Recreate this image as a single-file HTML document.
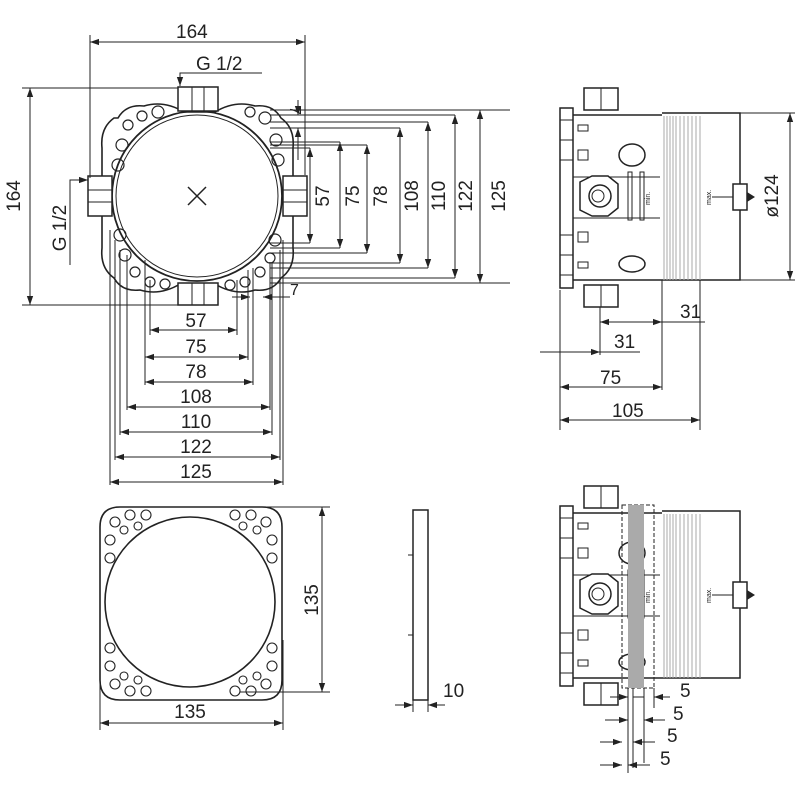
<!DOCTYPE html>
<html><head><meta charset="utf-8"><style>body{margin:0;background:#fff}svg{display:block}text{font-family:"Liberation Sans",sans-serif;fill:#222}</style></head><body>
<svg width="800" height="800" viewBox="0 0 800 800" xmlns="http://www.w3.org/2000/svg">
<defs>
<marker id="a" viewBox="0 0 10 10" refX="10" refY="5" markerWidth="9" markerHeight="9" orient="auto-start-reverse" markerUnits="userSpaceOnUse"><path d="M0,1.5 L10,5 L0,8.5z" fill="#222"/></marker>
<g id="side">
<rect x="560" y="108" width="13" height="180" fill="#fff" stroke="#222" stroke-width="1.5"/>
<path d="M560 120h13M560 140h13M560 160h13M560 235h13M560 255h13M560 275h13" stroke="#222"/>
<rect x="584" y="88" width="34" height="22" fill="#fff" stroke="#222" stroke-width="1.5"/><path d="M601 88v22" stroke="#222"/>
<rect x="584" y="285" width="34" height="22" fill="#fff" stroke="#222" stroke-width="1.5"/><path d="M601 285v22" stroke="#222"/>
<path d="M573 115H662M573 280H662M662 113H740V280H662" fill="none" stroke="#222" stroke-width="1.5"/>
<path d="M573 177h87M573 218h87" stroke="#222"/>
<rect x="578" y="125" width="10" height="6" fill="none" stroke="#222"/>
<rect x="578" y="150" width="10" height="10" fill="none" stroke="#222"/>
<rect x="578" y="232" width="10" height="10" fill="none" stroke="#222"/>
<rect x="578" y="262" width="10" height="6" fill="none" stroke="#222"/>
<path d="M580 182l12-6h16l10 8v24l-10 8h-16l-12-6z" fill="#fff" stroke="#222" stroke-width="1.5"/>
<circle cx="600" cy="196" r="11" fill="none" stroke="#222" stroke-width="1.5"/><circle cx="598" cy="196" r="6" fill="none" stroke="#222"/>
<ellipse cx="632" cy="155" rx="13" ry="11" fill="none" stroke="#222" stroke-width="1.5"/>
<ellipse cx="632" cy="264" rx="13" ry="8" fill="none" stroke="#222" stroke-width="1.5"/>
<rect x="628" y="172" width="4" height="48" fill="none" stroke="#222"/><rect x="640" y="172" width="4" height="48" fill="none" stroke="#222"/>
<g stroke="#aaa" stroke-width="1"><path d="M664 116v164M667 116v164M670 116v164M673 116v164M676 116v164M680 116v164M684 116v164M688 116v164M692 116v164M696 116v164M700 116v164"/></g>
<rect x="733" y="184" width="14" height="26" fill="#fff" stroke="#222" stroke-width="1.5"/><path d="M712 197h21" stroke="#222"/><path d="M747 192l8 5-8 5z" fill="#222"/>
<text x="650" y="205" font-size="7" transform="rotate(-90 650 205)">min.</text>
<text x="711" y="205" font-size="7" transform="rotate(-90 711 205)">max.</text>
</g>
</defs>
<g fill="none" stroke="#222" stroke-width="1">
<path d="M118 118 q8 -14 26 -12 q20 -6 40 6 H215 q20 -12 40 -6 q18 -2 26 12 q14 10 12 30 v100 q2 20 -12 30 q-8 14 -26 12 q-20 6 -40 -6 H180 q-20 12 -40 6 q-18 2 -26 -12 q-14 -10 -12 -30 v-100 q-2 -20 12 -30z" stroke-width="1.6"/>
<g stroke-width="1.2">
<circle cx="128" cy="125" r="5"/><circle cx="142" cy="116" r="5"/><circle cx="158" cy="112" r="6"/><circle cx="122" cy="145" r="6"/><circle cx="118" cy="165" r="6"/><circle cx="265" cy="118" r="6"/><circle cx="250" cy="112" r="5"/><circle cx="276" cy="140" r="6"/><circle cx="278" cy="160" r="6"/>
<circle cx="120" cy="235" r="6"/><circle cx="125" cy="255" r="6"/><circle cx="135" cy="272" r="5"/><circle cx="150" cy="282" r="5"/><circle cx="165" cy="284" r="5"/><circle cx="275" cy="240" r="6"/><circle cx="270" cy="258" r="5"/><circle cx="260" cy="272" r="5"/><circle cx="245" cy="282" r="5"/><circle cx="230" cy="285" r="5"/>
</g>
<circle cx="197" cy="196" r="85" stroke-width="1.8"/><circle cx="197" cy="196" r="81" stroke-width="1"/>
<path d="M188 187l18 18M206 187l-18 18" stroke-width="1.5"/>
<g stroke-width="1.5" fill="#fff">
<rect x="178" y="87" width="40" height="24"/><rect x="178" y="283" width="40" height="22"/>
<rect x="88" y="176" width="24" height="40"/><rect x="283" y="176" width="24" height="40"/>
</g>
<path d="M192 87v24M204 87v24M192 283v22M204 283v22M88 190h24M88 202h24M283 190h24M283 202h24"/>
<path d="M90 35v143M305 35v140"/><path d="M90 42H305" marker-start="url(#a)" marker-end="url(#a)"/>
<path d="M180 86V73H262" marker-start="url(#a)"/>
<path d="M22 88H178M22 305H180"/><path d="M30 88V305" marker-start="url(#a)" marker-end="url(#a)"/>
<path d="M88 180H70V265" marker-start="url(#a)"/>
<path d="M270 115H298M270 128H400M270 142H340M270 148H310M270 243H310M270 248H340M270 253H367M270 263H400M270 268H428M270 278H455M270 283H510M270 122H428M270 110H510M270 115H455M270 145H367"/>
<path d="M298 100V115" marker-end="url(#a)"/><path d="M298 160V128" marker-end="url(#a)"/>
<path d="M310 148V243" marker-start="url(#a)" marker-end="url(#a)"/>
<path d="M340 142V248" marker-start="url(#a)" marker-end="url(#a)"/>
<path d="M367 145V253" marker-start="url(#a)" marker-end="url(#a)"/>
<path d="M400 128V263" marker-start="url(#a)" marker-end="url(#a)"/>
<path d="M428 122V268" marker-start="url(#a)" marker-end="url(#a)"/>
<path d="M455 115V278" marker-start="url(#a)" marker-end="url(#a)"/>
<path d="M480 110V283" marker-start="url(#a)" marker-end="url(#a)"/>
<path d="M110 230V485M115 240V460M120 250V435M127 255V410M145 260V385M150 280V335M237 280V335M248 270V360M253 268V385M270 262V410M272 262V435M280 250V460M283 240V485"/>
<path d="M150 330H237" marker-start="url(#a)" marker-end="url(#a)"/>
<path d="M145 357H248" marker-start="url(#a)" marker-end="url(#a)"/>
<path d="M145 382H253" marker-start="url(#a)" marker-end="url(#a)"/>
<path d="M127 407H270" marker-start="url(#a)" marker-end="url(#a)"/>
<path d="M120 432H272" marker-start="url(#a)" marker-end="url(#a)"/>
<path d="M115 457H280" marker-start="url(#a)" marker-end="url(#a)"/>
<path d="M110 482H283" marker-start="url(#a)" marker-end="url(#a)"/>
<path d="M232 297H250" marker-end="url(#a)"/><path d="M290 297H263" marker-end="url(#a)"/>
<path d="M560 290V430M600 290V355M662 280V390M700 280V430"/>
<path d="M600 322H662" marker-start="url(#a)" marker-end="url(#a)"/><path d="M662 322H705"/>
<path d="M540 352H600" marker-end="url(#a)"/><path d="M600 352H640"/>
<path d="M560 387H662" marker-start="url(#a)" marker-end="url(#a)"/>
<path d="M560 420H700" marker-start="url(#a)" marker-end="url(#a)"/>
<path d="M740 113H795M740 280H795"/><path d="M790 113V280" marker-start="url(#a)" marker-end="url(#a)"/>
<!-- bottom-left plate -->
<path d="M120 507 H262 q20 0 20 20 V680 q0 20 -20 20 H120 q-20 0 -20 -20 V527 q0 -20 20 -20z" stroke-width="1.6"/>
<g stroke-width="1.1"><circle cx="115" cy="522" r="5"/><circle cx="130" cy="515" r="5"/><circle cx="146" cy="515" r="5"/><circle cx="110" cy="540" r="5"/><circle cx="110" cy="558" r="5"/><circle cx="124" cy="530" r="4"/><circle cx="138" cy="526" r="4"/>
<circle cx="266" cy="522" r="5"/><circle cx="251" cy="515" r="5"/><circle cx="235" cy="515" r="5"/><circle cx="272" cy="540" r="5"/><circle cx="272" cy="558" r="5"/><circle cx="257" cy="530" r="4"/><circle cx="243" cy="526" r="4"/>
<circle cx="115" cy="684" r="5"/><circle cx="130" cy="691" r="5"/><circle cx="146" cy="691" r="5"/><circle cx="110" cy="666" r="5"/><circle cx="110" cy="648" r="5"/><circle cx="124" cy="676" r="4"/><circle cx="138" cy="680" r="4"/>
<circle cx="266" cy="684" r="5"/><circle cx="251" cy="691" r="5"/><circle cx="235" cy="691" r="5"/><circle cx="272" cy="666" r="5"/><circle cx="272" cy="648" r="5"/><circle cx="257" cy="676" r="4"/><circle cx="243" cy="680" r="4"/></g>
<circle cx="190" cy="602" r="85" stroke-width="1.6"/>
<path d="M240 507H330M240 692H330"/><path d="M322 507V692" marker-start="url(#a)" marker-end="url(#a)"/>
<path d="M100 640V730M283 640V730"/><path d="M100 723H283" marker-start="url(#a)" marker-end="url(#a)"/>
<rect x="413" y="510" width="15" height="190" stroke-width="1.5"/><path d="M408 555h5M408 635h5"/>
<path d="M413 700v12M428 700v12"/><path d="M395 705H413" marker-end="url(#a)"/><path d="M445 705H428" marker-end="url(#a)"/>
</g>
<use href="#side"/>
<use href="#side" transform="translate(0,398)"/>
<g fill="none" stroke="#222" stroke-width="1">
<rect x="622" y="505" width="32" height="183" stroke-dasharray="4 2"/>
<rect x="628" y="505" width="16" height="183" fill="#aaa" stroke="none"/>
<path d="M628 688v85M633 688v80M644 688v75M654 688v20"/>
<path d="M610 697H628" marker-end="url(#a)"/><path d="M633 697H644"/><path d="M670 697H654" marker-end="url(#a)"/>
<path d="M605 720H628" marker-end="url(#a)"/><path d="M665 720H644" marker-end="url(#a)"/>
<path d="M600 742H622" marker-end="url(#a)"/><path d="M655 742H633" marker-end="url(#a)"/>
<path d="M600 765H622" marker-end="url(#a)"/><path d="M650 765H628" marker-end="url(#a)"/>
</g>
<g font-size="19">
<text x="176" y="38">164</text>
<text x="196" y="70">G 1/2</text>
<text x="20" y="196" transform="rotate(-90 20 196)" text-anchor="middle">164</text>
<text x="66" y="228" transform="rotate(-90 66 228)" text-anchor="middle">G 1/2</text>
<text x="290" y="106" font-size="16" transform="rotate(90 290 106)">7</text>
<text x="329" y="196" transform="rotate(-90 329 196)" text-anchor="middle">57</text>
<text x="359" y="196" transform="rotate(-90 359 196)" text-anchor="middle">75</text>
<text x="387" y="196" transform="rotate(-90 387 196)" text-anchor="middle">78</text>
<text x="418" y="196" transform="rotate(-90 418 196)" text-anchor="middle">108</text>
<text x="445" y="196" transform="rotate(-90 445 196)" text-anchor="middle">110</text>
<text x="472" y="196" transform="rotate(-90 472 196)" text-anchor="middle">122</text>
<text x="505" y="196" transform="rotate(-90 505 196)" text-anchor="middle">125</text>
<text x="290" y="295" font-size="16">7</text>
<text x="196" y="327" text-anchor="middle">57</text>
<text x="196" y="353" text-anchor="middle">75</text>
<text x="196" y="378" text-anchor="middle">78</text>
<text x="196" y="403" text-anchor="middle">108</text>
<text x="196" y="428" text-anchor="middle">110</text>
<text x="196" y="453" text-anchor="middle">122</text>
<text x="196" y="478" text-anchor="middle">125</text>
<text x="680" y="318">31</text>
<text x="614" y="348">31</text>
<text x="600" y="384">75</text>
<text x="612" y="417">105</text>
<text x="778" y="196" transform="rotate(-90 778 196)" text-anchor="middle">ø124</text>
<text x="318" y="600" transform="rotate(-90 318 600)" text-anchor="middle">135</text>
<text x="190" y="718" text-anchor="middle">135</text>
<text x="443" y="697">10</text>
<text x="680" y="697">5</text>
<text x="673" y="720">5</text>
<text x="667" y="742">5</text>
<text x="660" y="765">5</text>
</g>
</svg>
</body></html>
